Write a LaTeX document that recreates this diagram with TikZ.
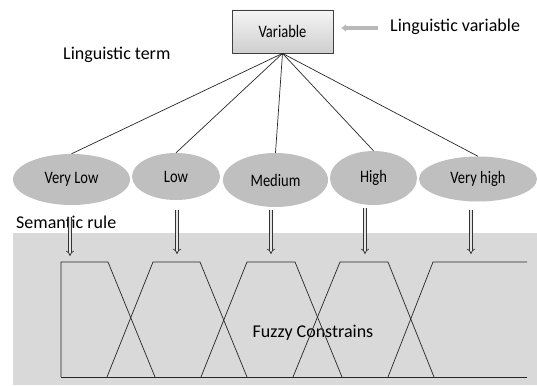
\documentclass[tikz,border=0pt]{standalone}
\usepackage{fontspec}
\usepackage{graphicx}
\setmainfont{Carlito}
\usetikzlibrary{arrows.meta,shapes.geometric,shadows}
\definecolor{bgray}{HTML}{D9D9D9}
\definecolor{egray}{HTML}{BFBFBF}
\newcommand{\cnd}[1]{\scalebox{0.83}[1]{#1}}
\tikzset{
  term/.style={ellipse, fill=egray, inner sep=0pt, font=\fontsize{17.5}{20}\selectfont},
  varbox/.style={draw=black!75, line width=0.8pt, top color=gray!8, bottom color=gray!38,
    minimum width=101pt, minimum height=43pt, inner sep=0pt, font=\fontsize{17.5}{20}\selectfont,
    drop shadow={opacity=0.35, shadow xshift=1.2pt, shadow yshift=-1.2pt}},
  lbl/.style={font=\fontsize{18}{22}\selectfont, inner sep=0pt},
  link/.style={draw=black!85, line width=0.7pt},
  semarrow/.style={draw=black!80, double=white!80!gray, double distance=2pt, line width=0.7pt, -{Implies[]}},
  fz/.style={draw=black!85, line width=0.7pt},
}
\begin{document}
\begin{tikzpicture}[x=1pt,y=-1pt]
\useasboundingbox (0,0) rectangle (537,385);
% background
\fill[bgray] (13,233) rectangle (537,385);
% top box
\node[varbox] (var) at (282.5,31.5) {\cnd{Variable}};
\node[lbl, anchor=west] (lv) at (390,27) {Linguistic variable};
\coordinate (ga) at (378,28);
\coordinate (gb) at (341,28);
\draw[gray!55, line width=4pt, -{Latex[length=5pt,width=8pt]}] (ga) -- (gb);
\node[lbl, anchor=west] (lt) at (63,55) {Linguistic term};
% terms
\node[term, minimum width=117pt, minimum height=51pt] (t1) at (71.5,179.5) {\cnd{Very Low}};
\node[term, minimum width=88pt, minimum height=47pt] (t2) at (176,176.5) {\cnd{Low}};
\node[term, minimum width=105pt, minimum height=54pt] (t3) at (275.5,180) {\cnd{Medium}};
\node[term, minimum width=87pt, minimum height=54pt] (t4) at (373.5,178) {\cnd{High}};
\node[term, minimum width=118pt, minimum height=45pt] (t5) at (478,179) {\cnd{Very high}};
\foreach \t in {t1,t2,t3,t4,t5} \draw[link] (var.south) -- (\t.north);
% semantic rule
\node[lbl, anchor=west] (sr) at (16,222) {Semantic rule};
% fuzzy constrains
\node[lbl] (fc) at (313,333) {Fuzzy Constrains};
\draw[fz] (61,377) -- (61,262) -- (108,262) -- (155,377);
\draw[fz] (107,377) -- (153,262) -- (200,262) -- (247,377);
\draw[fz] (201,377) -- (247,262) -- (295,262) -- (342,377);
\draw[fz] (293,377) -- (340,262) -- (388,262) -- (434,377);
\draw[fz] (388,377) -- (433,262) -- (527,262);
\draw[fz] (61,377) -- (527,377);
% semantic arrows
\coordinate (a1) at (70,217); \coordinate (b1) at (70,256);
\coordinate (a2) at (177,210); \coordinate (b2) at (177,254);
\coordinate (a3) at (271,210); \coordinate (b3) at (271,254);
\coordinate (a4) at (365,208); \coordinate (b4) at (365,254);
\coordinate (a5) at (471,210); \coordinate (b5) at (471,254);
\foreach \i in {1,...,5} \draw[semarrow] (a\i) -- (b\i);
\end{tikzpicture}
\end{document}
